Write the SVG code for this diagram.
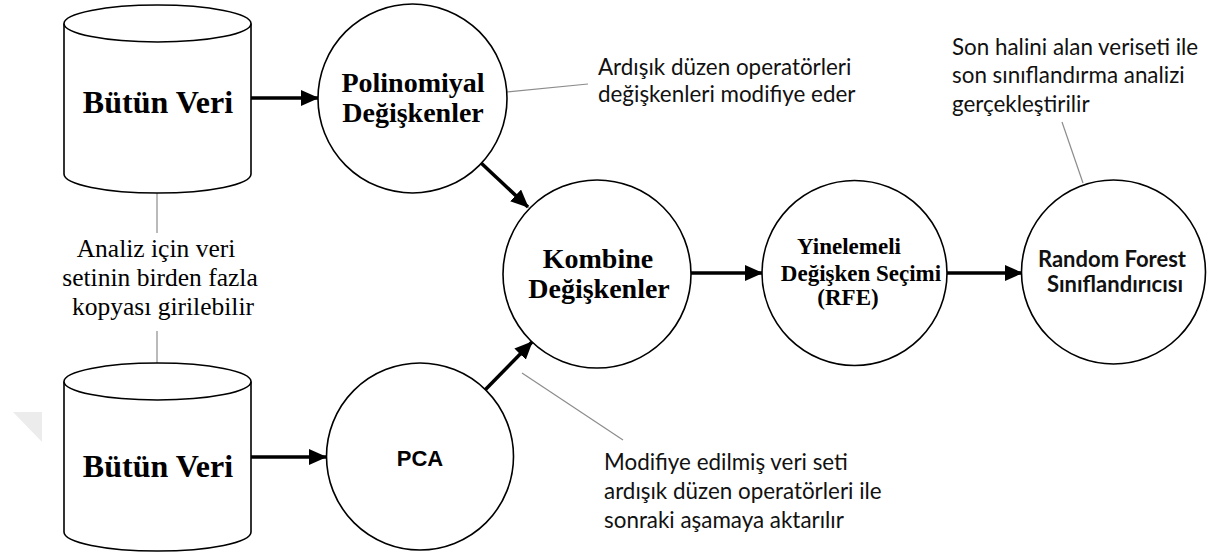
<svg xmlns="http://www.w3.org/2000/svg" width="1216" height="553" viewBox="0 0 1216 553">
  <style>
    .shape { fill: #ffffff; stroke: #000000; stroke-width: 1.6; }
    .flow { stroke: #000000; stroke-width: 3.5; fill: none; marker-end: url(#arrow); }
    .note-line { stroke: #8c8c8c; stroke-width: 1.2; fill: none; }
    .serif-b { font-family: "Liberation Serif", "Times New Roman", serif; font-weight: bold; fill: #000; text-anchor: middle; }
    .serif { font-family: "Liberation Serif", "Times New Roman", serif; fill: #000; text-anchor: middle; font-size: 25.5px; }
    .sans-b { font-family: "Liberation Sans", Arial, sans-serif; font-weight: bold; fill: #000; text-anchor: middle; }
    .note { font-family: Lato, "Noto Sans", sans-serif; fill: #111; font-size: 22.4px; }
    .rf { font-family: Lato, "Noto Sans", sans-serif; font-weight: bold; fill: #111; font-size: 22px; text-anchor: middle; }
  </style>
  <defs>
    <marker id="arrow" markerUnits="userSpaceOnUse" markerWidth="18" markerHeight="16" refX="17" refY="8" orient="auto">
      <path d="M0,0 L18,8 L0,16 Z" fill="#000"/>
    </marker>
  </defs>

  <!-- faint corner mark -->
  <polygon points="13,412 42,412 42,442" fill="#ececec"/>

  <!-- connectors -->
  <g id="connectors">
    <line class="flow" x1="251" y1="98" x2="318" y2="98"/>
    <line class="flow" x1="251" y1="457" x2="326" y2="457"/>
    <line class="flow" x1="480" y1="162" x2="528" y2="207"/>
    <line class="flow" x1="485" y1="390" x2="532" y2="342"/>
    <line class="flow" x1="691" y1="273" x2="762" y2="273"/>
    <line class="flow" x1="947" y1="273" x2="1022" y2="273"/>
    <!-- annotation leaders -->
    <line class="note-line" x1="157" y1="193" x2="157" y2="233"/>
    <line class="note-line" x1="157" y1="331" x2="157" y2="363"/>
    <line class="note-line" x1="507" y1="92" x2="588" y2="84"/>
    <line class="note-line" x1="522" y1="373" x2="623" y2="440"/>
    <line class="note-line" x1="1062" y1="122" x2="1083" y2="183"/>
  </g>

  <!-- data source: top -->
  <g id="data-top">
    <path class="shape" d="M64,23.5 L64,174 A93.5,19 0 0 0 251,174 L251,23.5"/>
    <ellipse class="shape" cx="157.5" cy="23.5" rx="93.5" ry="18.5"/>
    <text class="serif-b" x="158" y="113" font-size="32">Bütün Veri</text>
  </g>

  <!-- data source: bottom -->
  <g id="data-bottom">
    <path class="shape" d="M64,381.5 L64,532 A93.5,19 0 0 0 251,532 L251,381.5"/>
    <ellipse class="shape" cx="157.5" cy="381.5" rx="93.5" ry="18.5"/>
    <text class="serif-b" x="158" y="477" font-size="32">Bütün Veri</text>
  </g>

  <!-- note between data sources -->
  <g id="note-copies">
    <text class="serif" x="156" y="257">Analiz için veri</text>
    <text class="serif" x="160" y="286">setinin birden fazla</text>
    <text class="serif" x="163" y="315">kopyası girilebilir</text>
  </g>

  <g id="node-polynomial">
    <circle class="shape" cx="412.5" cy="98.5" r="94.5"/>
    <text class="serif-b" x="413" y="92" font-size="28">Polinomiyal</text>
    <text class="serif-b" x="413" y="122" font-size="28">Değişkenler</text>
  </g>

  <g id="node-pca">
    <circle class="shape" cx="420" cy="456.5" r="93.5"/>
    <text class="sans-b" x="420" y="466" font-size="22">PCA</text>
  </g>

  <g id="node-combine">
    <circle class="shape" cx="597" cy="274" r="94"/>
    <text class="serif-b" x="598" y="268" font-size="28">Kombine</text>
    <text class="serif-b" x="599" y="298" font-size="28">Değişkenler</text>
  </g>

  <g id="node-rfe">
    <circle class="shape" cx="854.5" cy="273" r="92.5"/>
    <text class="serif-b" x="849" y="254" font-size="23">Yinelemeli</text>
    <text class="serif-b" x="861" y="281" font-size="23">Değişken Seçimi</text>
    <text class="serif-b" x="848" y="305" font-size="23">(RFE)</text>
  </g>

  <g id="node-rf">
    <circle class="shape" cx="1113.5" cy="272" r="92"/>
    <text class="rf" x="1112" y="267">Random Forest</text>
    <text class="rf" x="1115" y="292">Sınıflandırıcısı</text>
  </g>

  <g id="note-operators">
    <text class="note" x="598" y="75">Ardışık düzen operatörleri</text>
    <text class="note" x="598" y="102">değişkenleri modifiye eder</text>
  </g>

  <g id="note-transfer">
    <text class="note" x="604" y="470">Modifiye edilmiş veri seti</text>
    <text class="note" x="604" y="499">ardışık düzen operatörleri ile</text>
    <text class="note" x="604" y="528">sonraki aşamaya aktarılır</text>
  </g>

  <g id="note-final">
    <text class="note" x="952" y="55">Son halini alan veriseti ile</text>
    <text class="note" x="952" y="83">son sınıflandırma analizi</text>
    <text class="note" x="952" y="112">gerçekleştirilir</text>
  </g>
</svg>
